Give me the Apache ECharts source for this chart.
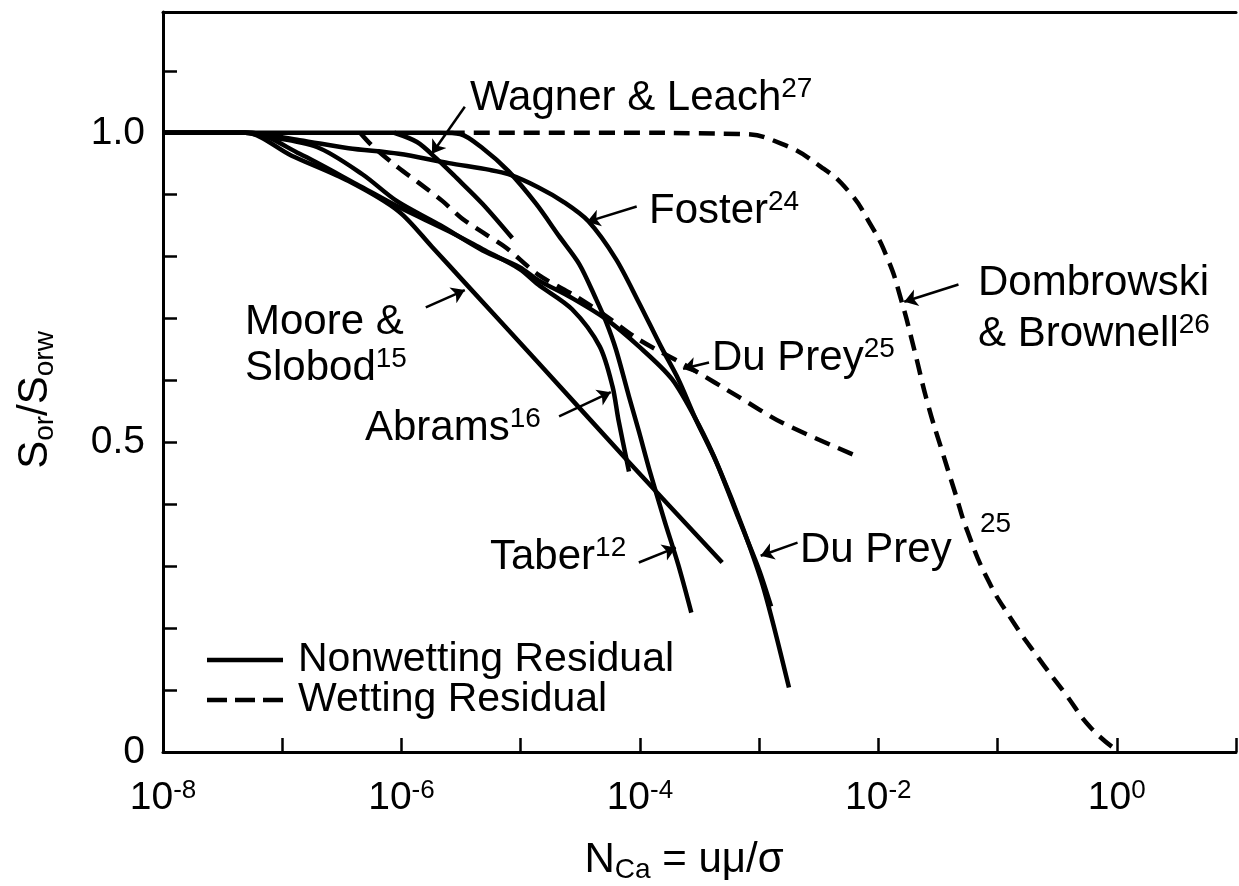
<!DOCTYPE html>
<html><head><meta charset="utf-8">
<script src="https://cdn.jsdelivr.net/npm/echarts@6/dist/echarts.min.js"></script>
<style>html,body{margin:0;padding:0;background:#fff}#c{width:1239px;height:886px}</style>
</head><body><div id="c"></div>
<script>
// ---- data: [N_Ca, Sor/Sorw] ----
const mooreSlobod = [[1e-8,1.0],[4.9e-8,1.0],[1.2e-7,0.963],[3.6e-7,0.922],[9.5e-7,0.873],[1.8e-6,0.816],[3.4e-6,0.758],[1.4e-5,0.629],[8.1e-5,0.468],[4.9e-4,0.306]];
const abrams = [[1e-8,1.0],[5.4e-8,1.0],[1.4e-7,0.966],[4.2e-7,0.917],[9.5e-7,0.880],[2.5e-6,0.841],[4.8e-6,0.812],[9.8e-6,0.780],[1.4e-5,0.755],[2.7e-5,0.715],[4.6e-5,0.655],[5.9e-5,0.590],[6.6e-5,0.537],[8.1e-5,0.453]];
const duPreyNonwetting = [[1e-8,1.0],[4.9e-8,1.0],[6.9e-8,0.995],[1.95e-7,0.977],[4.7e-7,0.933],[9.1e-7,0.890],[2.1e-6,0.851],[4.8e-6,0.810],[9.8e-6,0.783],[1.4e-5,0.762],[2.7e-5,0.733],[5.2e-5,0.699],[9.8e-5,0.655],[1.86e-4,0.602],[3.1e-4,0.529],[4.6e-4,0.459],[7.4e-4,0.359],[1.1e-3,0.262],[1.78e-3,0.104]];
const foster = [[1e-8,1.0],[4.9e-8,1.0],[1.4e-7,0.988],[3.6e-7,0.975],[9.5e-7,0.966],[2.5e-6,0.951],[5.5e-6,0.940],[7.9e-6,0.933],[1.4e-5,0.912],[2.3e-5,0.888],[3.7e-5,0.857],[6.3e-5,0.796],[9.8e-5,0.726],[1.5e-4,0.655],[2.1e-4,0.602],[2.95e-4,0.537],[4.4e-4,0.467],[6.8e-4,0.375],[1.0e-3,0.294],[1.26e-3,0.235]];
const taber = [[1e-8,1.0],[2.1e-6,1.0],[3.1e-6,0.998],[4.8e-6,0.975],[7.9e-6,0.938],[1.35e-5,0.885],[2.1e-5,0.833],[3.1e-5,0.788],[4.3e-5,0.731],[5.2e-5,0.695],[6.3e-5,0.650],[8.1e-5,0.574],[9.8e-5,0.518],[1.2e-4,0.456],[1.6e-4,0.375],[2.1e-4,0.302],[2.7e-4,0.225]];
const wagnerLeach = [[8.7e-7,1.0],[1.35e-6,0.985],[1.95e-6,0.959],[2.9e-6,0.927],[4.8e-6,0.885],[8.5e-6,0.830]];
const duPreyWetting = [[4.5e-7,1.0],[5.75e-7,0.978],[9.5e-7,0.943],[1.4e-6,0.919],[2.2e-6,0.890],[3.2e-6,0.862],[5.1e-6,0.836],[7.6e-6,0.814],[1.4e-5,0.771],[2.9e-5,0.736],[5.2e-5,0.704],[9.8e-5,0.666],[2.6e-4,0.621],[6.8e-4,0.573],[1.55e-3,0.532],[6.2e-3,0.480]];
const dombrowskiBrownell = [[2.5e-6,1.0],[4.6e-5,1.0],[6.8e-4,0.998],[1.55e-3,0.982],[3.3e-3,0.945],[5.6e-3,0.906],[8.3e-3,0.857],[1.2e-2,0.796],[1.55e-2,0.731],[2.0e-2,0.650],[2.6e-2,0.562],[3.4e-2,0.488],[4.4e-2,0.419],[5.6e-2,0.356],[8.3e-2,0.278],[0.13,0.215],[0.22,0.152],[0.37,0.094],[0.60,0.040],[0.95,0.006]];

// arrows from label to curve: [from, to] in data coordinates
const arrowWagner = [[3.4e-6,1.042],[1.8e-6,0.966]];
const arrowFoster = [[9.4e-5,0.881],[3.6e-5,0.856]];
const arrowDombrowski = [[4.7e-2,0.755],[1.65e-2,0.727]];
const arrowMoore = [[1.6e-6,0.718],[3.4e-6,0.746]];
const arrowAbrams = [[2.1e-5,0.542],[5.7e-5,0.581]];
const arrowDuPreyUpper = [[3.8e-4,0.629],[2.3e-4,0.619]];
const arrowTaber = [[9.8e-5,0.306],[2.0e-4,0.330]];
const arrowDuPreyLower = [[2.1e-3,0.338],[1.03e-3,0.317]];

const yTickLabels = {0:'0', 5:'0.5', 10:'1.0'};
const xLabelExponents = [-8,-6,-4,-2,0];

// ---- styles / layout ----
const FONT = '"Liberation Sans", Arial, Helvetica, sans-serif';
const BLACK = '#000';
const chart = echarts.init(document.getElementById('c'));

function curve(name, data, dashed, smooth){
  return {
    name, type:'line', data, symbol:'none', showSymbol:false,
    smooth: smooth || 0.3, silent:true, animation:false, z:3,
    lineStyle:{color:BLACK, width: dashed ? 4.5 : 4.5, type: dashed ? [16,9] : 'solid', cap:'butt', join:'round'}
  };
}
const allArrows = [arrowWagner,arrowFoster,arrowDombrowski,arrowMoore,arrowAbrams,arrowDuPreyUpper,arrowTaber,arrowDuPreyLower];

const mainRich = {
  m:{fontSize:42, fontFamily:FONT, fill:BLACK, lineHeight:46},
  s:{fontSize:28, fontFamily:FONT, fill:BLACK, lineHeight:46, verticalAlign:'top'}
};
function txt(x, y, text){
  return {
    type:'text', x, y, silent:true, z:10,
    style:{text, rich:mainRich, align:'left', verticalAlign:'middle', fill:BLACK}
  };
}

const graphic = [
  txt(470, 98, '{m|Wagner & Leach}{s|27}'),
  txt(649, 211, '{m|Foster}{s|24}'),
  txt(978, 283, '{m|Dombrowski}'),
  txt(978, 334, '{m|& Brownell}{s|26}'),
  txt(245, 322, '{m|Moore &}'),
  txt(245, 368, '{m|Slobod}{s|15}'),
  txt(712, 358, '{m|Du Prey}{s|25}'),
  txt(365, 428, '{m|Abrams}{s|16}'),
  txt(490, 557, '{m|Taber}{s|12}'),
  txt(800, 550, '{m|Du Prey}'),
  {type:'text', x:980, y:524, silent:true, z:10, style:{text:'25', font:'28px '+FONT, fill:BLACK, align:'left', verticalAlign:'middle'}},
  // legend
  {type:'line', shape:{x1:207,y1:660,x2:283,y2:660}, style:{stroke:BLACK, lineWidth:4.5}, silent:true},
  {type:'line', shape:{x1:207,y1:700,x2:283,y2:700}, style:{stroke:BLACK, lineWidth:4.5, lineDash:[20,8]}, silent:true},
  {type:'text', x:298, y:660, silent:true, style:{text:'Nonwetting Residual', font:'41px '+FONT, fill:BLACK, verticalAlign:'middle'}},
  {type:'text', x:298, y:700, silent:true, style:{text:'Wetting Residual', font:'41px '+FONT, fill:BLACK, verticalAlign:'middle'}},
  // axis titles
  {type:'text', x:684, y:860, silent:true, style:{
    text:'{m|N}{b|Ca}{m| = uμ/σ}', align:'center', verticalAlign:'middle',
    rich:{m:{fontSize:42,fontFamily:FONT,fill:BLACK,lineHeight:48}, b:{fontSize:28,fontFamily:FONT,fill:BLACK,lineHeight:48,verticalAlign:'bottom'}}}},
  {type:'text', x:35, y:400, rotation:Math.PI/2, silent:true, style:{
    text:'{m|S}{b|or}{m|/S}{b|orw}', align:'center', verticalAlign:'middle',
    rich:{m:{fontSize:42,fontFamily:FONT,fill:BLACK,lineHeight:48}, b:{fontSize:28,fontFamily:FONT,fill:BLACK,lineHeight:48,verticalAlign:'bottom'}}}}
];

const option = {
  backgroundColor:'#fff',
  animation:false,
  grid:{left:163, right:0, top:12, bottom:134, containLabel:false},
  xAxis:[{
    type:'log', logBase:10, min:1e-8, max:10, splitNumber:9,
    axisLine:{show:true, onZero:false, lineStyle:{color:BLACK, width:3}},
    axisTick:{show:true, inside:true, length:14, lineStyle:{color:BLACK, width:2.5}},
    minorTick:{show:false}, splitLine:{show:false},
    axisLabel:{
      margin:26, color:BLACK, showMaxLabel:true, showMinLabel:true,
      formatter:function(v){
        const e = Math.round(Math.log10(v));
        if (xLabelExponents.indexOf(e) < 0) return '';
        return '{b|10}{e|' + e + '}';
      },
      rich:{
        b:{fontSize:39, fontFamily:FONT, color:BLACK, lineHeight:40},
        e:{fontSize:26, fontFamily:FONT, color:BLACK, lineHeight:40, verticalAlign:'top'}
      }
    }
  },{
    type:'value', position:'top', min:0, max:1,
    axisLine:{show:true, onZero:false, lineStyle:{color:BLACK, width:3}},
    axisTick:{show:false}, axisLabel:{show:false}, splitLine:{show:false}
  }],
  yAxis:{
    type:'value', min:0, max:1.195, interval:0.1,
    axisLine:{show:true, onZero:false, lineStyle:{color:BLACK, width:3}},
    axisTick:{show:true, inside:true, length:14, lineStyle:{color:BLACK, width:2.5}},
    splitLine:{show:false},
    axisLabel:{
      margin:18, color:BLACK, fontSize:39, fontFamily:FONT, showMaxLabel:false,
      formatter:function(v){ const k = Math.round(v*10); return (Math.abs(v*10-k) < 1e-6 && yTickLabels[k] !== undefined) ? yTickLabels[k] : ''; }
    }
  },
  series:[
    curve('Moore & Slobod', mooreSlobod, false),
    curve('Abrams', abrams, false),
    curve('Du Prey (nonwetting)', duPreyNonwetting, false),
    curve('Foster', foster, false),
    curve('Taber', taber, false),
    curve('Wagner & Leach', wagnerLeach, false),
    curve('Du Prey (wetting)', duPreyWetting, true),
    curve('Dombrowski & Brownell', dombrowskiBrownell, true, 0.5),
    {
      name:'arrows', type:'lines', coordinateSystem:'cartesian2d', polyline:false, silent:true, z:5,
      symbol:['none','arrow'], symbolSize:[0,13],
      lineStyle:{color:BLACK, width:2.5, opacity:1, curveness:0},
      data: allArrows.map(a => ({coords:a}))
    }
  ],
  graphic
};
chart.setOption(option);
</script></body></html>
